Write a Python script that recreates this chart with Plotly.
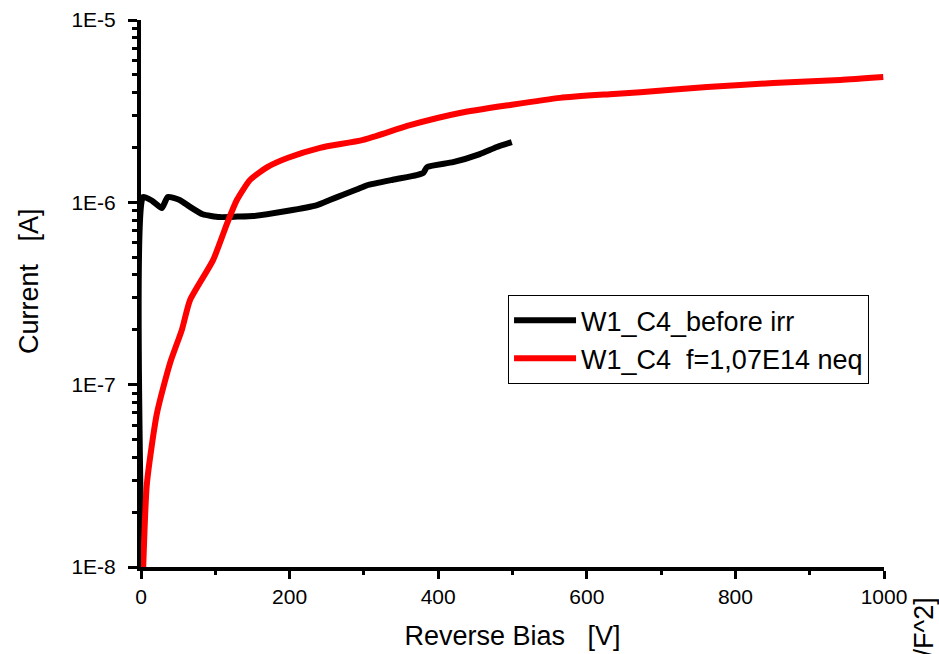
import plotly.graph_objects as go

# Data
bias_before = [1, 2.7, 15, 28, 36, 52, 65, 83, 106, 130, 151, 196, 237, 254, 272, 291, 304, 339, 371, 380, 385, 420, 456, 479, 499]
current_before = [1.0e-8, 1.07e-6, 1.02e-6, 0.93e-6, 1.07e-6, 1.03e-6, 0.95e-6, 0.86e-6, 0.83e-6, 0.835e-6, 0.841e-6, 0.896e-6, 0.966e-6, 1.03e-6, 1.10e-6, 1.18e-6, 1.24e-6, 1.33e-6, 1.41e-6, 1.45e-6, 1.56e-6, 1.66e-6, 1.84e-6, 2.01e-6, 2.14e-6]

bias_irr = [3, 8, 21.5, 39, 55, 66, 97, 116, 129, 147, 170, 197, 241, 299, 362, 429, 497, 564, 631, 672, 762, 851, 941, 999]
current_irr = [1.0e-8, 2.88e-8, 6.98e-8, 1.31e-7, 2.0e-7, 2.91e-7, 4.82e-7, 7.69e-7, 1.03e-6, 1.33e-6, 1.56e-6, 1.75e-6, 1.99e-6, 2.20e-6, 2.65e-6, 3.09e-6, 3.42e-6, 3.74e-6, 3.92e-6, 4.02e-6, 4.29e-6, 4.51e-6, 4.69e-6, 4.87e-6]

y_tick_vals = [1e-8, 1e-7, 1e-6, 1e-5]
y_tick_text = ["1E-8", "1E-7", "1E-6", "1E-5"]
y_minor_vals = [m * 10.0 ** e for e in (-8, -7, -6) for m in range(2, 10)]
x_tick_vals = [0, 200, 400, 600, 800, 1000]
x_minor_vals = [100, 300, 500, 700, 900]

font_family = "Liberation Sans, Arial, sans-serif"

fig = go.Figure()
fig.add_trace(go.Scatter(x=bias_before, y=current_before, mode="lines",
                         name="W1_C4_before irr",
                         line=dict(color="black", width=6, shape="spline", smoothing=0.5)))
fig.add_trace(go.Scatter(x=bias_irr, y=current_irr, mode="lines",
                         name="W1_C4  f=1,07E14 neq",
                         line=dict(color="#ff0000", width=6, shape="spline", smoothing=0.6)))

fig.update_layout(
    width=939, height=654,
    margin=dict(l=141, r=55, t=20, b=87, autoexpand=False),
    paper_bgcolor="white", plot_bgcolor="white",
    font=dict(family=font_family, color="black", size=21),
    showlegend=True,
    legend=dict(x=0.494, y=0.497, xanchor="left", yanchor="top",
                bordercolor="black", borderwidth=1, bgcolor="white",
                font=dict(size=27, family=font_family), itemwidth=62,
                tracegroupgap=0),
    xaxis=dict(range=[0, 1000], tickvals=x_tick_vals, ticks="outside",
               ticklen=8, tickwidth=3, tickcolor="black",
               showline=True, linecolor="black", linewidth=4,
               showgrid=False, zeroline=False, automargin=False,
               tickfont=dict(size=21), ticklabelstandoff=0,
               minor=dict(tickmode="array", tickvals=x_minor_vals, ticks="outside",
                          ticklen=4, tickwidth=3, tickcolor="black", showgrid=False),
               title=dict(text="Reverse Bias   [V]", font=dict(size=27), standoff=20)),
    yaxis=dict(type="log", range=[-8, -5], tickvals=y_tick_vals, ticktext=y_tick_text,
               ticks="outside", ticklen=9, tickwidth=3, tickcolor="black",
               showline=True, linecolor="black", linewidth=4,
               showgrid=False, zeroline=False, automargin=False,
               tickfont=dict(size=21), ticklabelstandoff=8,
               minor=dict(tickmode="array", tickvals=y_minor_vals, ticks="outside",
                          ticklen=5, tickwidth=3, tickcolor="black", showgrid=False)),
)

# y-axis title (placed as an annotation to match the reference position)
fig.add_annotation(text="Current   [A]", xref="paper", yref="paper",
                   x=-0.1507, y=0.523, xanchor="center", yanchor="middle",
                   showarrow=False, textangle=-90,
                   font=dict(size=27, family=font_family, color="black"))

# clipped secondary-axis title at the lower right edge
fig.add_annotation(text="1/C^2   [1/F^2]", xref="paper", yref="paper",
                   x=1.054, y=-0.2139, xanchor="center", yanchor="middle",
                   showarrow=False, textangle=-90,
                   font=dict(size=27, family=font_family, color="black"))

fig.write_html("out.html")
